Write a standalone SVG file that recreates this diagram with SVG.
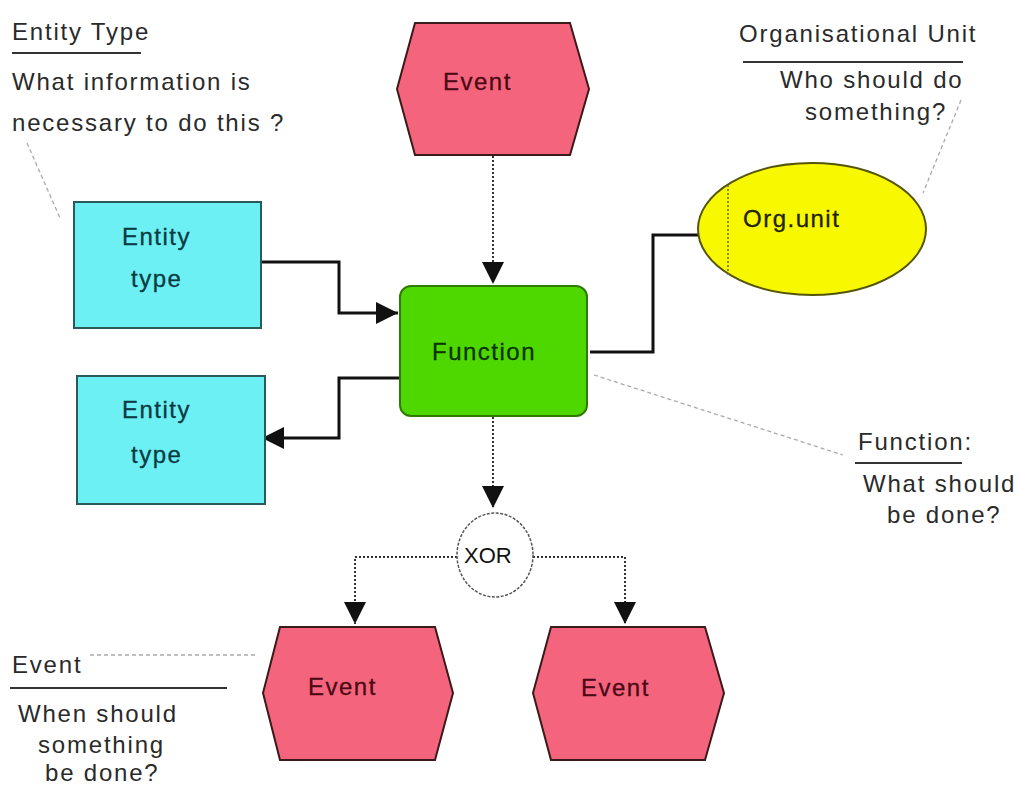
<svg xmlns="http://www.w3.org/2000/svg" width="1019" height="787" viewBox="0 0 1019 787">
<defs>
<style>
.ann{font-family:"Liberation Sans",Arial,sans-serif;font-size:24px;letter-spacing:1.8px;fill:#2a2a2a}
.lbl{font-family:"Liberation Sans",Arial,sans-serif;font-size:24px;letter-spacing:1.5px;stroke-width:0.3}
.ev{fill:#f4647d;stroke:#3a1a1a;stroke-width:2}
.evt{fill:#4a0a14;stroke:#4a0a14}
.ent{fill:#6cf0f3;stroke:#2a5a5a;stroke-width:2}
.entt{fill:#0a3a42;stroke:#0a3a42}
.solid{fill:none;stroke:#111;stroke-width:3}
.dot{fill:none;stroke:#333;stroke-width:2;stroke-dasharray:2 2}
.lead{fill:none;stroke:#aaa;stroke-width:1.3;stroke-dasharray:4 3}
.uline{stroke:#333;stroke-width:2}
</style>
<marker id="arr" viewBox="0 0 10 10" refX="10" refY="5" markerWidth="24" markerHeight="22" markerUnits="userSpaceOnUse" orient="auto">
<path d="M0,0 L10,5 L0,10 z" fill="#111"/>
</marker>
</defs>
<rect width="1019" height="787" fill="#fff"/>

<g id="connectors">
<polyline class="solid" points="261,262 339,262 339,313 398,313" marker-end="url(#arr)"/>
<polyline class="solid" points="400,378 339,378 339,438 262,438" marker-end="url(#arr)"/>
<polyline class="solid" points="590,352 653,352 653,235 699,235"/>
<line class="dot" x1="493" y1="156" x2="493" y2="284" marker-end="url(#arr)"/>
<line class="dot" x1="493" y1="417" x2="493" y2="508" marker-end="url(#arr)"/>
<polyline class="dot" points="457,557 355,557 355,624" marker-end="url(#arr)"/>
<polyline class="dot" points="533,557 625,557 625,624" marker-end="url(#arr)"/>
</g>

<g id="leaders">
<line class="lead" x1="27" y1="143" x2="60" y2="218"/>
<line class="lead" x1="961" y1="100" x2="923" y2="193"/>
<line class="lead" x1="594" y1="375" x2="843" y2="455"/>
<line class="lead" x1="90" y1="655" x2="258" y2="655"/>
</g>

<g id="event-top">
<polygon class="ev" points="415,23 570,23 589,89 570,155 415,155 397,89"/>
<text class="lbl evt" x="443" y="90">Event</text>
</g>

<g id="function">
<rect x="400" y="286" width="187" height="130" rx="11" fill="#4fd800" stroke="#2f7a00" stroke-width="2"/>
<text class="lbl" x="432" y="360" fill="#0a3300" stroke="#0a3300">Function</text>
</g>

<g id="entity-in">
<rect class="ent" x="74" y="202" width="187" height="126"/>
<text class="lbl entt" x="122" y="245">Entity</text>
<text class="lbl entt" x="131" y="287">type</text>
</g>

<g id="entity-out">
<rect class="ent" x="77" y="376" width="188" height="128"/>
<text class="lbl entt" x="122" y="418">Entity</text>
<text class="lbl entt" x="131" y="463">type</text>
</g>

<g id="org-unit">
<ellipse cx="812" cy="229" rx="114" ry="66" fill="#f8f800" stroke="#55550a" stroke-width="2"/>
<line x1="728" y1="185" x2="728" y2="275" stroke="#666" stroke-width="1.5" stroke-dasharray="2 2"/>
<text class="lbl" x="743" y="227" fill="#222200" stroke="#222200">Org.unit</text>
</g>

<g id="xor">
<ellipse cx="495" cy="555" rx="38" ry="42" fill="#fff" stroke="#555" stroke-width="1.5" stroke-dasharray="3 1.5"/>
<text x="464" y="563" font-family="Liberation Sans, Arial, sans-serif" font-size="22" fill="#111">XOR</text>
</g>

<g id="event-left">
<polygon class="ev" points="280,627 435,627 453,693 435,760 280,760 263,693"/>
<text class="lbl evt" x="308" y="695">Event</text>
</g>

<g id="event-right">
<polygon class="ev" points="551,627 705,627 724,693 705,760 551,760 533,693"/>
<text class="lbl evt" x="581" y="696">Event</text>
</g>

<g id="note-entity">
<text class="ann" x="12" y="40">Entity Type</text>
<line class="uline" x1="12" y1="53" x2="141" y2="53"/>
<text class="ann" x="12" y="90">What information is</text>
<text class="ann" x="12" y="131">necessary to do this ?</text>
</g>

<g id="note-org">
<text class="ann" x="739" y="42">Organisational Unit</text>
<line class="uline" x1="743" y1="62" x2="963" y2="62"/>
<text class="ann" x="780" y="88">Who should do</text>
<text class="ann" x="805" y="120">something?</text>
</g>

<g id="note-function">
<text class="ann" x="858" y="450">Function:</text>
<line class="uline" x1="855" y1="463" x2="962" y2="463"/>
<text class="ann" x="863" y="492">What should</text>
<text class="ann" x="887" y="523">be done?</text>
</g>

<g id="note-event">
<text class="ann" x="12" y="673">Event</text>
<line class="uline" x1="10" y1="688" x2="227" y2="688"/>
<text class="ann" x="18" y="722">When should</text>
<text class="ann" x="38" y="753">something</text>
<text class="ann" x="45" y="781">be done?</text>
</g>
</svg>
